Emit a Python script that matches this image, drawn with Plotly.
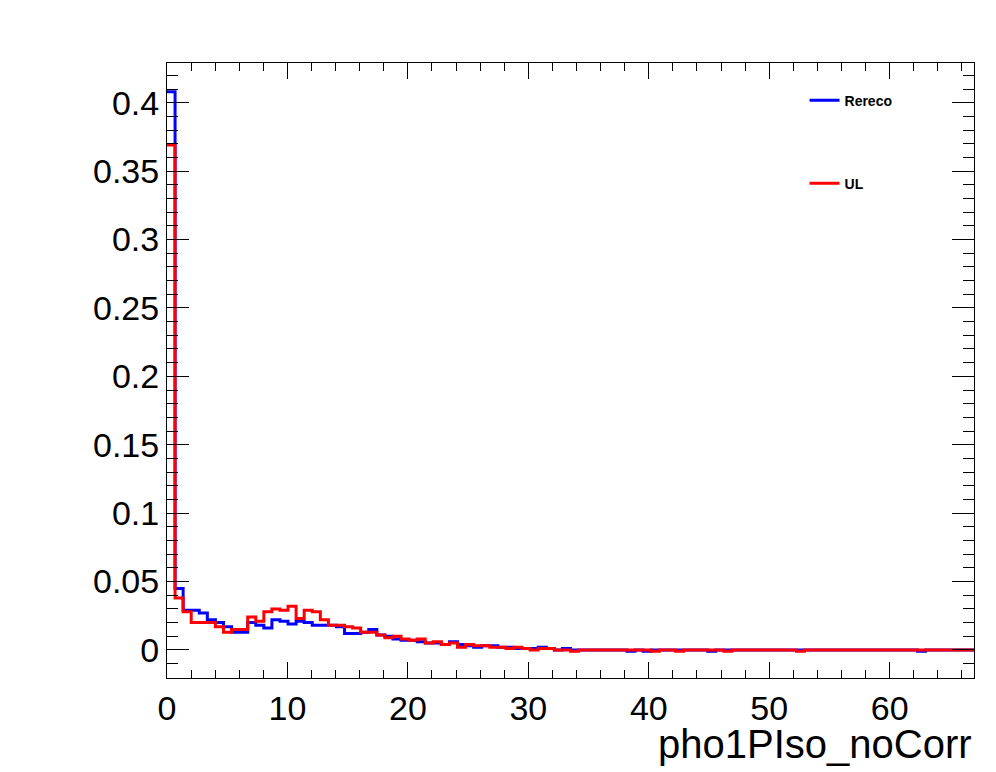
import plotly.graph_objects as go

# histogram: 100 bins from 0 to 67
n_bins = 100
x_max = 67.0
edges = [i * x_max / n_bins for i in range(n_bins + 1)]

rereco = [0.408, 0.045, 0.029, 0.029, 0.027, 0.022, 0.020, 0.017, 0.013, 0.013,
          0.020, 0.018, 0.016, 0.022, 0.021, 0.019, 0.021, 0.020, 0.018, 0.018,
          0.018, 0.017, 0.012, 0.012, 0.013, 0.015, 0.011, 0.010, 0.008, 0.007,
          0.007, 0.006, 0.005, 0.005, 0.004, 0.006, 0.004, 0.003, 0.002, 0.003,
          0.003, 0.002, 0.002, 0.001, 0.001, 0.001, 0.002, 0.001, 0.000, 0.001,
          0.000, 0.000, 0.000, 0.000, 0.000, 0.000, 0.000, -0.001, 0.000, -0.001,
          0.000, 0.000, 0.000, 0.000, 0.000, 0.000, 0.000, -0.001, 0.000, 0.000,
          0.000, 0.000, 0.000, 0.000, 0.000, 0.000, 0.000, 0.000, 0.000, 0.000,
          0.000, 0.000, 0.000, 0.000, 0.000, 0.000, 0.000, 0.000, 0.000, 0.000,
          0.000, 0.000, 0.000, -0.001, 0.000, 0.000, 0.000, 0.000, 0.000, 0.000]

ul = [0.369, 0.038, 0.028, 0.020, 0.020, 0.020, 0.017, 0.013, 0.015, 0.015,
      0.024, 0.021, 0.028, 0.030, 0.029, 0.032, 0.023, 0.029, 0.028, 0.022,
      0.018, 0.018, 0.017, 0.016, 0.013, 0.013, 0.011, 0.009, 0.010, 0.008,
      0.007, 0.008, 0.005, 0.006, 0.004, 0.005, 0.002, 0.004, 0.003, 0.003,
      0.002, 0.002, 0.001, 0.002, 0.001, 0.000, 0.001, 0.001, 0.000, 0.000,
      -0.001, 0.000, 0.000, 0.000, 0.000, 0.000, 0.000, 0.000, 0.000, 0.000,
      -0.001, 0.000, 0.000, -0.001, 0.000, 0.000, 0.000, 0.000, 0.000, -0.001,
      0.000, 0.000, 0.000, 0.000, 0.000, 0.000, 0.000, 0.000, -0.001, 0.000,
      0.000, 0.000, 0.000, 0.000, 0.000, 0.000, 0.000, 0.000, 0.000, 0.000,
      0.000, 0.000, 0.000, 0.000, 0.000, 0.000, 0.000, 0.000, 0.000, 0.000]

FONT = 'Liberation Sans, Arial'

fig = go.Figure()
for name, vals, col, grp in (('Rereco', rereco, 'blue', 'a'), ('UL', ul, 'red', 'b')):
    fig.add_trace(go.Scatter(x=edges, y=vals + [vals[-1]], mode='lines',
                             line=dict(color=col, width=3, shape='hv'),
                             name=name, legendgroup=grp))

axis_common = dict(showline=True, mirror='allticks', linecolor='black', linewidth=1,
                   ticks='inside', tickcolor='black', showgrid=False, zeroline=False,
                   automargin=False,
                   tickfont=dict(family=FONT, size=34, color='black'))

fig.update_xaxes(range=[0, x_max], dtick=10, ticklen=16,
                 minor=dict(dtick=2, ticklen=8, ticks='inside', tickcolor='black'),
                 **axis_common)
fig.update_yaxes(range=[-0.0205, 0.429], dtick=0.05, ticklen=22,
                 minor=dict(dtick=0.01, ticklen=11, ticks='inside', tickcolor='black'),
                 **axis_common)

fig.add_annotation(text='pho1PIso_noCorr', xref='paper', yref='paper', x=1, y=0,
                   xanchor='right', yanchor='top', yshift=-42, showarrow=False,
                   font=dict(family=FONT, size=40, color='black'))

fig.update_layout(width=996, height=772, plot_bgcolor='white', paper_bgcolor='white',
                  margin=dict(l=159, r=30, t=55, b=102),
                  legend=dict(x=0.79, y=0.965, xanchor='left', yanchor='top',
                              bgcolor='rgba(0,0,0,0)', tracegroupgap=62, itemwidth=30,
                              font=dict(family=FONT, size=14, color='black', weight='bold')))
fig.write_html("out.html")
